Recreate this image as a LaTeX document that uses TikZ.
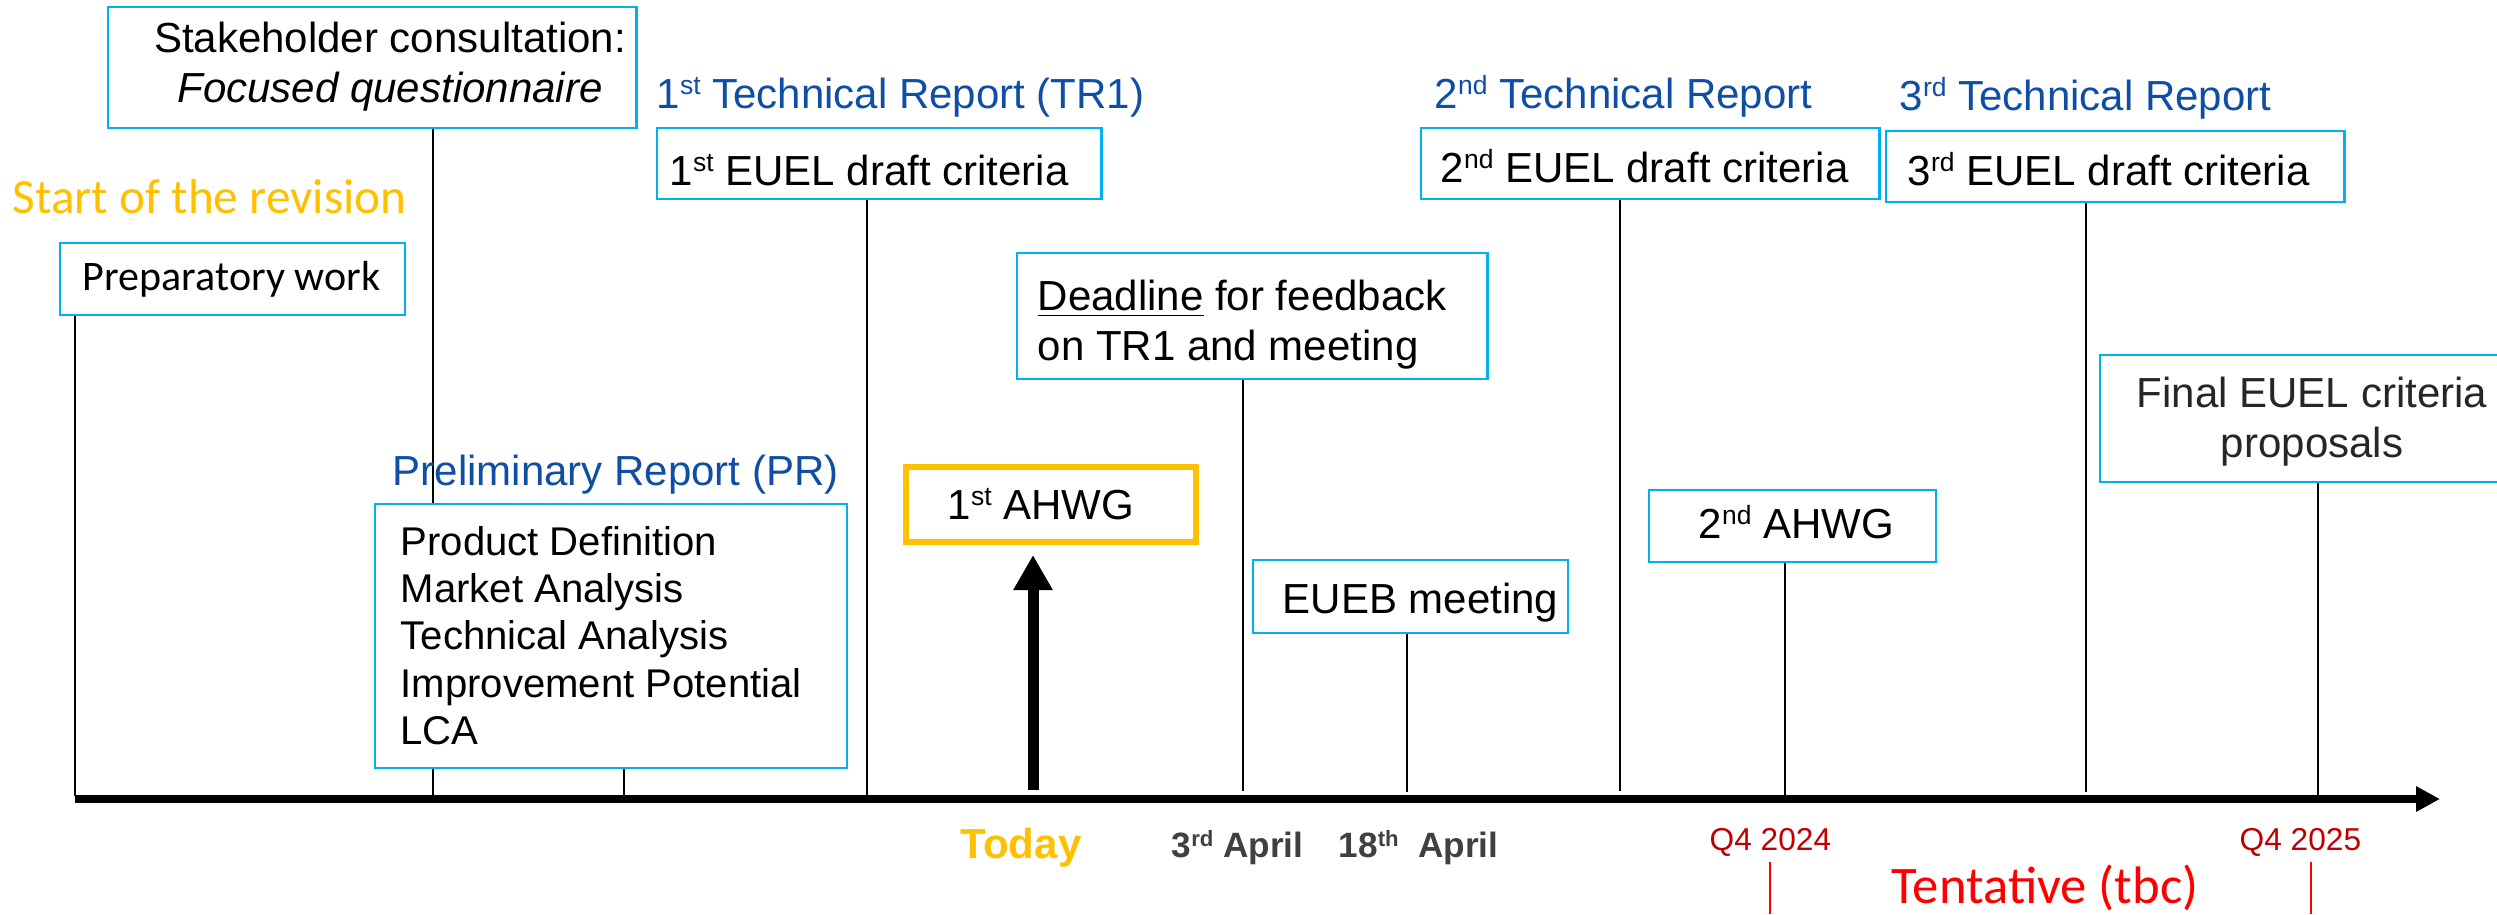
\documentclass[tikz,border=0pt]{standalone}
\usepackage{graphicx}
\usepackage{fontspec}
\setmainfont{Liberation Sans}
\newfontfamily\calfont{Carlito}
\usetikzlibrary{arrows.meta,backgrounds}
\definecolor{lblue}{RGB}{0,176,240}
\definecolor{dblue}{RGB}{14,78,164}
\definecolor{gold}{RGB}{255,192,0}
\definecolor{dred}{RGB}{192,0,0}
\definecolor{bred}{RGB}{255,0,0}
\definecolor{dgray}{RGB}{64,64,64}
\definecolor{fgray}{RGB}{38,38,38}
\newcommand{\twoline}[3]{\begin{tabular}[t]{@{}#1@{}}#2\\#3\end{tabular}}
\newcommand{\sups}[1]{\raisebox{0.31em}{\scalebox{0.63}{#1}}}
\begin{document}
\begin{tikzpicture}[x=0.01cm,y=-0.01cm,
  box/.style={draw=lblue,line width=0.7pt,fill=white,inner sep=0pt,outer sep=0pt,anchor=north west},
  txt/.style={inner sep=0pt,anchor=base west,font=\fontsize{11.95}{14.23}\selectfont},
  ctxt/.style={txt,anchor=base},
  head/.style={txt,text=dblue},
  datetxt/.style={txt,text=dgray,font=\fontsize{10}{12}\selectfont\bfseries},
  qtxt/.style={txt,inner xsep=0pt,inner ysep=0.05cm,text=dred,font=\fontsize{9}{11}\selectfont},
  tick/.style={line width=0.45pt,draw=black},
  redtick/.style={line width=0.45pt,draw=bred},
]
\useasboundingbox (0,0) rectangle (2497,914);
\clip (0,0) rectangle (2497,914);

% axis coordinates
\coordinate (a0) at (75,799);
\coordinate (a1) at (2440,799);
\coordinate (tPrep) at (75,796);
\coordinate (tStake) at (433,796);
\coordinate (tPR) at (624,796);
\coordinate (tE1) at (867,796);
\coordinate (tDead) at (1243,791);
\coordinate (tEueb) at (1407,792);
\coordinate (tE2) at (1620,791);
\coordinate (tA2) at (1785,796);
\coordinate (tE3) at (2086,792);
\coordinate (tFin) at (2318,796);
\coordinate (tdB) at (1033,790);
\coordinate (tdT) at (1033,555);
\coordinate (q24bot) at (1770,914);
\coordinate (q25bot) at (2311,914);

% boxes
\node[box,minimum width=5.28cm,minimum height=1.21cm] (stake) at (108,7) {};
\node[box,minimum width=3.45cm,minimum height=0.72cm] (prep) at (60,243) {};
\node[box,minimum width=4.44cm,minimum height=0.71cm] (euel1) at (657,128) {};
\node[box,minimum width=4.70cm,minimum height=1.26cm] (dead) at (1017,253) {};
\node[box,minimum width=4.58cm,minimum height=0.71cm] (euel2) at (1421,128) {};
\node[box,minimum width=4.58cm,minimum height=0.71cm] (euel3) at (1886,131) {};
\node[box,minimum width=4.24cm,minimum height=1.27cm] (final) at (2100,355) {};
\node[box,line width=0.5pt,minimum width=4.72cm,minimum height=2.64cm] (pr) at (375,504) {};
\node[box,draw=gold,line width=1.6pt,minimum width=2.90cm,minimum height=0.75cm] (ahwg1) at (906,467) {};
\node[box,minimum width=3.15cm,minimum height=0.73cm] (eueb) at (1253,560) {};
\node[box,minimum width=2.87cm,minimum height=0.72cm] (ahwg2) at (1649,490) {};

% texts
\node[ctxt] (staket) at (390,52) {\twoline{c}{Stakeholder consultation:}{\itshape Focused questionnaire}};
\node[txt,text=gold,font=\fontsize{14}{17}\selectfont\calfont] (start) at (12,213) {Start of the revision};
\node[ctxt,font=\fontsize{11.95}{14.23}\selectfont\calfont] (prept) at (231.5,290) {Preparatory work};
\node[head] (tr1) at (656,108) {1\sups{st} Technical Report (TR1)};
\node[txt] (euel1t) at (669,185) {1\sups{st} EUEL draft criteria};
\node[txt] (deadt) at (1037,310) {\twoline{l}{\underline{Deadline} for feedback}{on TR1 and meeting}};
\node[head] (tr2) at (1434,108) {2\sups{nd} Technical Report};
\node[txt] (euel2t) at (1440,182) {2\sups{nd} EUEL draft criteria};
\node[head] (tr3) at (1899,110) {3\sups{rd} Technical Report};
\node[txt] (euel3t) at (1907,185) {3\sups{rd} EUEL draft criteria};
\node[ctxt,text=fgray] (finalt) at (2312,407) {\twoline{c}{Final EUEL criteria}{proposals}};
\node[head] (prl) at (392,485) {Preliminary Report (PR)};
\node[txt,font=\fontsize{11.4}{13.5}\selectfont] (prt) at (400,555) {\begin{tabular}[t]{@{}l@{}}Product Definition\\Market Analysis\\Technical Analysis\\Improvement Potential\\LCA\end{tabular}};
\node[txt] (ahwg1t) at (947,519) {1\sups{st} AHWG};
\node[txt] (euebt) at (1282,613) {EUEB meeting};
\node[txt] (ahwg2t) at (1698,538) {2\sups{nd} AHWG};
\node[txt,text=gold,font=\fontsize{11.95}{14.23}\selectfont\bfseries] (today) at (960,858) {Today};
\node[datetxt] (d3) at (1171,857) {3\sups{rd} April};
\node[datetxt] (d18) at (1338,857) {18\sups{th}\ \ April};
\node[qtxt] (q24) at (1709,850) {Q4 2024};
\node[qtxt] (q25) at (2239,850) {Q4 2025};
\node[txt,text=bred,font=\fontsize{15}{18}\selectfont\calfont] (tent) at (1891,903) {Tentative (tbc)};

% connectors (behind boxes)
\begin{pgfonlayer}{background}
\fill[white] (0,0) rectangle (2497,914);
\draw[tick] (prep.south -| tPrep) -- (tPrep);
\draw[tick] (stake.south -| tStake) -- (tStake);
\draw[tick] (pr.south -| tPR) -- (tPR);
\draw[tick] (euel1.south -| tE1) -- (tE1);
\draw[tick] (dead.south -| tDead) -- (tDead);
\draw[tick] (eueb.south -| tEueb) -- (tEueb);
\draw[tick] (euel2.south -| tE2) -- (tE2);
\draw[tick] (ahwg2.south -| tA2) -- (tA2);
\draw[tick] (euel3.south -| tE3) -- (tE3);
\draw[tick] (final.south -| tFin) -- (tFin);
\end{pgfonlayer}

\draw[redtick] (q24.south -| q24bot) -- (q24bot);
\draw[redtick] (q25.south -| q25bot) -- (q25bot);

% axis and today arrow
\draw[line width=0.08cm,-{Triangle[length=0.24cm,width=0.24cm]}] (a0) -- (a1);
\draw[line width=0.11cm,-{Triangle[length=0.35cm,width=0.37cm]}] (tdB) -- (tdT);
\end{tikzpicture}
\end{document}
